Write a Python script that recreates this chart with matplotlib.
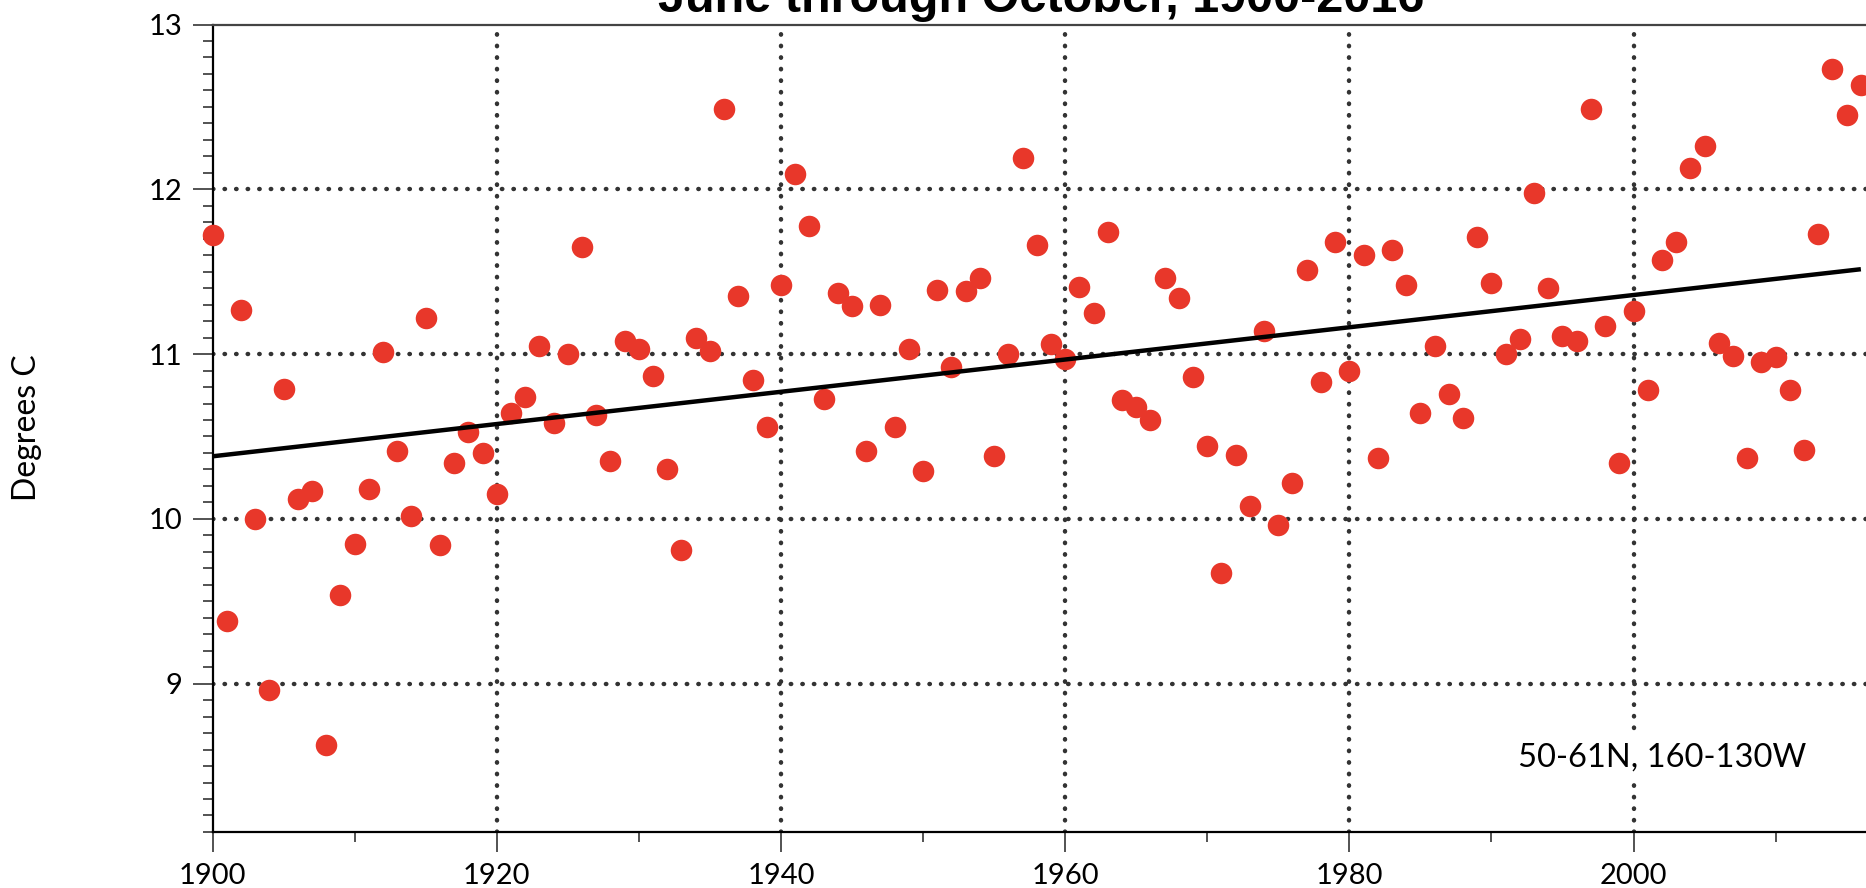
import numpy as np
import matplotlib
matplotlib.use("Agg")
import matplotlib.pyplot as plt
from matplotlib.ticker import MultipleLocator

years = list(range(1900, 2017))
temps = [
    11.72, 9.38, 11.27, 10.00, 8.96, 10.79, 10.12, 10.17, 8.63, 9.54,    # 1900s
    9.85, 10.18, 11.01, 10.41, 10.02, 11.22, 9.84, 10.34, 10.53, 10.40,  # 1910s
    10.15, 10.64, 10.74, 11.05, 10.58, 11.00, 11.65, 10.63, 10.35, 11.08,
    11.03, 10.87, 10.30, 9.81, 11.10, 11.02, 12.49, 11.35, 10.84, 10.56,
    11.42, 12.09, 11.78, 10.73, 11.37, 11.29, 10.41, 11.30, 10.56, 11.03,
    10.29, 11.39, 10.92, 11.38, 11.46, 10.38, 11.00, 12.19, 11.66, 11.06,
    10.97, 11.41, 11.25, 11.74, 10.72, 10.68, 10.60, 11.46, 11.34, 10.86,
    10.44, 9.67, 10.39, 10.08, 11.14, 9.96, 10.22, 11.51, 10.83, 11.68,
    10.90, 11.60, 10.37, 11.63, 11.42, 10.64, 11.05, 10.76, 10.61, 11.71,
    11.43, 11.00, 11.09, 11.98, 11.40, 11.11, 11.08, 12.49, 11.17, 10.34,
    11.26, 10.78, 11.57, 11.68, 12.13, 12.26, 11.07, 10.99, 10.37, 10.95,
    10.98, 10.78, 10.42, 11.73, 12.73, 12.45, 12.63,
]
title = "June through October, 1900-2016"
region = "50-61N, 160-130W"
x_ticks = [1900, 1920, 1940, 1960, 1980, 2000]
y_ticks = [9, 10, 11, 12, 13]

plt.rcParams['font.family'] = ['Lato', 'DejaVu Sans']

fig = plt.figure(figsize=(18.66, 8.88), dpi=100)
ax = fig.add_axes([0.1139, 0.0631, 0.8861, 0.9093])

x = np.array(years)
y = np.array(temps)
slope, icpt = np.polyfit(x, y, 1)

ax.set_xlim(1900, 2016.36)
ax.set_ylim(8.1, 13)

# dotted grid, round dots
grid_kw = dict(color="#333333", lw=3.2, linestyle=(0, (0.1, 2.5)),
               dash_capstyle="round", zorder=1)
for gx in x_ticks[1:]:
    ax.axvline(gx, **grid_kw)
for gy in y_ticks[:-1]:
    ax.axhline(gy, **grid_kw)

ax.plot(x, y, "o", ms=15.5, color="#e8372a", mec="none", zorder=3, clip_on=False)
ax.plot([x[0], x[-1]], [icpt + slope * x[0], icpt + slope * x[-1]],
        color="black", lw=3.2, zorder=4, solid_capstyle="butt")

ax.set_xticks(x_ticks)
ax.set_yticks(y_ticks)
ax.xaxis.set_minor_locator(MultipleLocator(10))
ax.yaxis.set_minor_locator(MultipleLocator(0.1))
ax.tick_params(which="major", length=14.5, width=1.3, color="#444444",
               labelsize=21, direction="out")
ax.tick_params(which="minor", length=7.2, width=1.3, color="#444444", direction="out")
ax.tick_params(axis="x", pad=8)
ax.tick_params(axis="y", pad=7)

for side in ("left", "bottom"):
    ax.spines[side].set_linewidth(1.6)
    ax.spines[side].set_color("black")
ax.spines["top"].set_linewidth(1.6)
ax.spines["top"].set_color("#444444")
ax.spines["right"].set_visible(False)

ax.text(1991.9, 8.55, region, fontsize=23.5, ha="left", va="center", zorder=5,
        bbox=dict(facecolor="white", edgecolor="none", pad=6))

fig.text(27 / 1866, 1 - 428 / 888, "Degrees C", rotation=90, fontsize=23,
         ha="center", va="center")
# title is cut by the top edge, as in the source image
fig.text(1041 / 1866, 1 - 12 / 888, title, fontsize=35, fontweight="bold",
         family="Liberation Sans", ha="center", va="baseline")

fig.savefig("out.png", dpi=100)
